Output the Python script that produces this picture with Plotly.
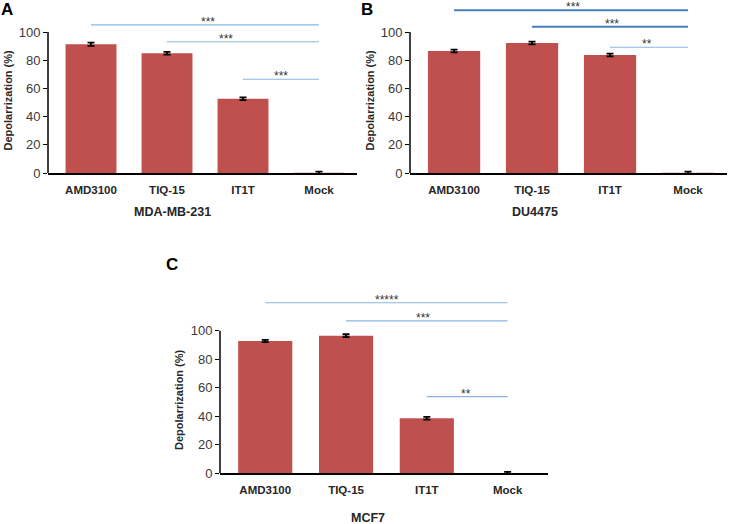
import plotly.graph_objects as go

W, H = 729, 524

categories = ["AMD3100", "TIQ-15", "IT1T", "Mock"]

# Panel A: MDA-MB-231
values_a = [91.3, 84.9, 52.7, 0.1]
errors_a = [1.2, 1.0, 1.0, 0.9]
# Panel B: DU4475
values_b = [86.5, 92.2, 83.7, 0.1]
errors_b = [1.0, 1.0, 1.0, 0.9]
# Panel C: MCF7
values_c = [92.8, 96.5, 38.6, 0.1]
errors_c = [0.8, 1.0, 1.0, 0.9]

# significance brackets: (from category, to category, y level, star label, star x-position in category index)
sig_a = [("AMD3100", "Mock", 105.0, "***", 1.54),
         ("TIQ-15", "Mock", 93.1, "***", 1.78),
         ("IT1T", "Mock", 66.5, "***", 2.5)]
sig_b = [("AMD3100", "Mock", 115.4, "***", 1.53),
         ("TIQ-15", "Mock", 103.8, "***", 2.02),
         ("IT1T", "Mock", 89.2, "**", 2.48)]
sig_c = [("AMD3100", "Mock", 119.6, "*****", 1.51),
         ("TIQ-15", "Mock", 106.9, "***", 1.95),
         ("IT1T", "Mock", 53.7, "**", 2.49)]

panel_letters = ["A", "B", "C"]
cell_titles = ["MDA-MB-231", "DU4475", "MCF7"]
y_title = "Depolarrization (%)"
y_ticks = [0, 20, 40, 60, 80, 100]


def xp(px):
    return px / W


def yp(px):
    return 1 - px / H


BAR = "#C0504D"
LIGHT = "#8DB4E2"
DARK = "#4A7EBB"
TXT = "#262626"

panels = [
    dict(vals=values_a, errs=errors_a, sig=sig_a, sig_colors=[LIGHT, LIGHT, LIGHT], sig_w=[1.2, 1.2, 1.2],
         xdom=(48, 357), y0=173.0, ppu=1.41, ymax=120, xr=[-0.566, 3.5],
         letter_xy=(7, 9), ytitle_x=7, title_xy=(172, 212)),
    dict(vals=values_b, errs=errors_b, sig=sig_b, sig_colors=[DARK, DARK, LIGHT], sig_w=[2, 2, 1.2],
         xdom=(410, 727), y0=173.0, ppu=1.41, ymax=120, xr=[-0.565, 3.5],
         letter_xy=(367, 9), ytitle_x=369, title_xy=(535, 212)),
    dict(vals=values_c, errs=errors_c, sig=sig_c, sig_colors=[LIGHT, LIGHT, LIGHT], sig_w=[1.2, 1.2, 1.2],
         xdom=(220, 548), y0=473.3, ppu=1.426, ymax=130, xr=[-0.56, 3.5],
         letter_xy=(172, 264), ytitle_x=179, title_xy=(368, 518)),
]

fig = go.Figure()
layout = dict(
    template="none",
    width=W, height=H, margin=dict(l=0, r=0, t=0, b=0, autoexpand=False),
    paper_bgcolor="white", plot_bgcolor="white",
    showlegend=False, font=dict(family="Liberation Sans, Arial, sans-serif", color=TXT),
)
annotations = []
shapes = []

for i, p in enumerate(panels):
    n = "" if i == 0 else str(i + 1)
    xa, ya = "x" + n, "y" + n
    fig.add_trace(go.Bar(
        x=categories, y=p["vals"], xaxis=xa, yaxis=ya,
        marker=dict(color=BAR, line=dict(width=0)), width=0.67,
        error_y=dict(type="data", array=p["errs"], visible=True, color="black", thickness=1.8, width=3.5),
        hoverinfo="x+y",
    ))
    for (c0, c1, lvl, stars, sx), col, lw in zip(p["sig"], p["sig_colors"], p["sig_w"]):
        fig.add_trace(go.Scatter(
            x=[c0, c1], y=[lvl, lvl], xaxis=xa, yaxis=ya, mode="lines",
            line=dict(color=col, width=lw), hoverinfo="skip",
        ))
        annotations.append(dict(
            x=sx, y=lvl, xref=xa, yref=ya, text=stars, showarrow=False,
            xanchor="center", yanchor="bottom", yshift=-6,
            font=dict(size=12, color="#333333"),
        ))
    top_px = p["y0"] - p["ymax"] * p["ppu"]
    layout["xaxis" + n] = dict(
        domain=[xp(p["xdom"][0]), xp(p["xdom"][1])], anchor=ya, automargin=False,
        type="category", categoryorder="array", categoryarray=categories,
        range=p["xr"], showline=True, linecolor="black", linewidth=1.5,
        ticks="outside", ticklen=5, tickcolor="rgba(0,0,0,0)",
        tickfont=dict(size=11.5, weight="bold", color=TXT), showgrid=False, zeroline=False,
        fixedrange=True,
    )
    layout["yaxis" + n] = dict(
        domain=[yp(p["y0"]), yp(top_px)], anchor=xa, automargin=False,
        range=[0, p["ymax"]], tickvals=y_ticks, ticks="outside", ticklen=4,
        tickcolor="black", tickwidth=1.2, showline=False, showgrid=False, zeroline=False,
        tickfont=dict(size=13, color="#3a3a3a"), fixedrange=True,
    )
    shapes.append(dict(
        type="line", xref=xa + " domain", yref=ya, x0=0, x1=0, y0=0, y1=100,
        line=dict(color="black", width=1.5),
    ))
    annotations.append(dict(
        x=xp(p["letter_xy"][0]), y=yp(p["letter_xy"][1]), xref="paper", yref="paper",
        text="<b>%s</b>" % panel_letters[i], showarrow=False, xanchor="center", yanchor="middle",
        font=dict(size=17, color="black"),
    ))
    annotations.append(dict(
        x=xp(p["ytitle_x"]), y=yp(p["y0"] - 50 * p["ppu"] - 2), xref="paper", yref="paper",
        text="<b>%s</b>" % y_title, showarrow=False, textangle=-90, xanchor="center", yanchor="middle",
        font=dict(size=11, color=TXT),
    ))
    annotations.append(dict(
        x=xp(p["title_xy"][0]), y=yp(p["title_xy"][1]), xref="paper", yref="paper",
        text="<b>%s</b>" % cell_titles[i], showarrow=False, xanchor="center", yanchor="middle",
        font=dict(size=12.5, color=TXT),
    ))

layout["annotations"] = annotations
layout["shapes"] = shapes
fig.update_layout(**layout)
fig.write_html(
    "out.html",
    config={"displayModeBar": False, "staticPlot": False},
    post_script="document.body.style.margin='0px';document.body.style.overflow='hidden';",
)
